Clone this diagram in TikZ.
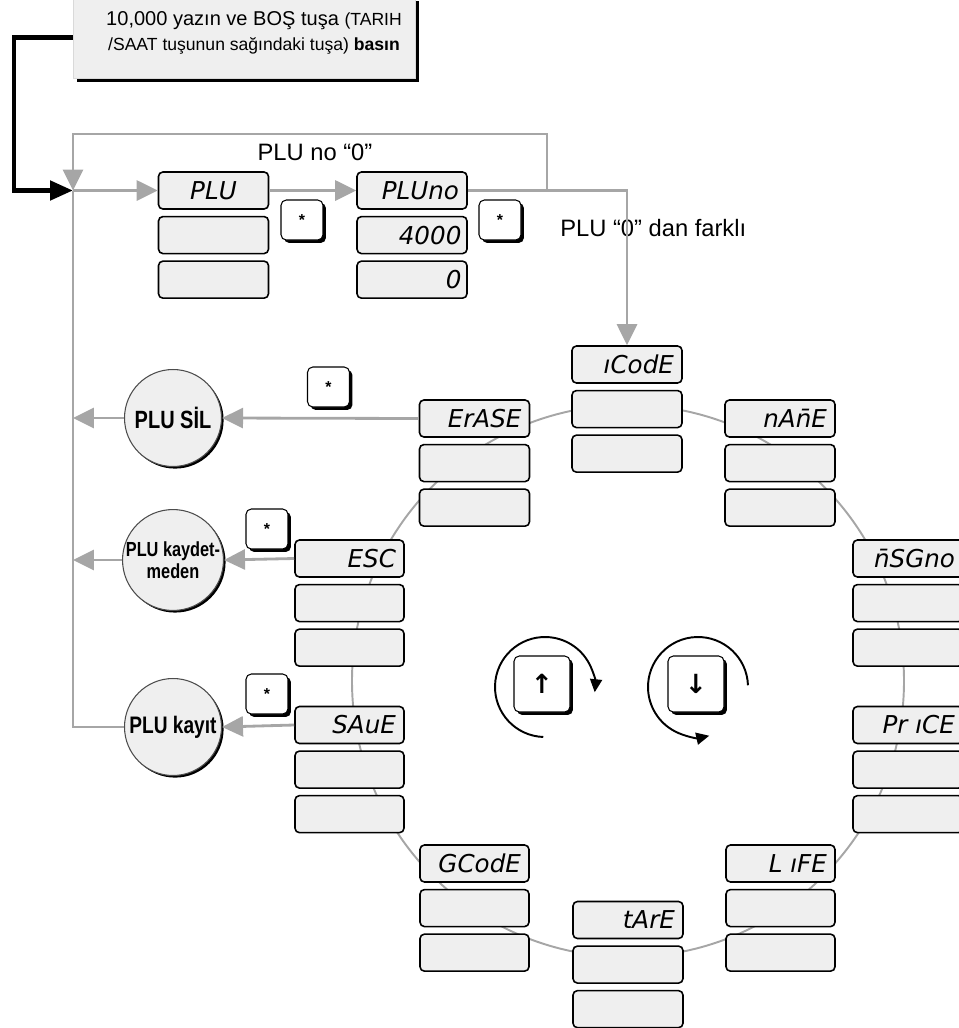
\documentclass[tikz,border=0pt]{standalone}
\usepackage{fontspec}
\setmainfont{Liberation Sans}
\newfontfamily\lcdfont{DejaVu Sans}
\newfontfamily\symfont{DejaVu Sans}
\newfontfamily\circfont{Liberation Sans}[FakeStretch=0.8]
\usepackage{xcolor}
\definecolor{lineGray}{HTML}{A6A6A6}
\definecolor{panelFill}{HTML}{EFEFEF}
\usetikzlibrary{
    arrows.meta,
    positioning,
    calc,
    shadows
}
\tikzset{
    % one row of the scale display
    lcdrow/.style={
        draw=black,
        line width=0.9pt,
        rounded corners=2.5pt,
        fill=panelFill,
        minimum height=0.74cm,
        inner sep=0pt,
    },
    % seven segment style text
    lcdtext/.style={
        font=\lcdfont\itshape\fontsize{14}{14}\selectfont,
        anchor=east,
        text height=10.2pt,
        text depth=0pt,
        inner sep=0pt,
    },
    % key of the keyboard
    keycap/.style={
        draw=black,
        line width=0.6pt,
        fill=white,
        rounded corners=3pt,
        minimum width=0.84cm,
        minimum height=0.8cm,
        font=\bfseries\small,
        drop shadow={shadow xshift=1.7pt, shadow yshift=-1.7pt, fill=black, opacity=1},
    },
    % end states on the left
    endstate/.style={
        circle,
        draw=black!70,
        line width=0.6pt,
        fill=panelFill,
        minimum size=1.94cm,
        align=center,
        inner sep=0pt,
        font=\circfont\bfseries\fontsize{14.2}{15}\selectfont,
        drop shadow={shadow xshift=1.2pt, shadow yshift=-1.2pt, fill=black, opacity=1},
    },
    % gray arrows
    flowarrow/.style={
        draw=lineGray,
        line width=1.6pt,
        -{Triangle[length=4.2mm, width=4mm]},
    },
    flowline/.style={
        draw=lineGray,
        line width=1.6pt,
    },
    % turning arrows round the up/down keys
    turn/.style={
        draw=black,
        line width=1.1pt,
        -{Triangle[length=2.6mm, width=2.4mm]},
    },
    plain text/.style={
        font=\fontsize{13.5}{16}\selectfont,
        inner sep=0pt,
    },
}
% three rows of a display: name, x, y, width, text of the first row
\newcommand{\lcdpanel}[5]{%
    \node[lcdrow, minimum width=#4] (#1-1) at (#2,#3) {};
    \node[lcdrow, minimum width=#4, below=0.12cm of #1-1] (#1-2) {};
    \node[lcdrow, minimum width=#4, below=0.12cm of #1-2] (#1-3) {};
    \node[lcdtext] (#1-t) at ([xshift=-0.17cm]#1-1.east) {#5};
}

\begin{document}
\begin{tikzpicture}[x=0.02cm, y=-0.02cm]
    \useasboundingbox (0,0) rectangle (959,1028);

    % ring of the menu
    \draw[lineGray, line width=1.1pt] (628,681) circle[radius=276];

    % note at the top
    \node[fill=panelFill, draw=black!15, minimum width=6.84cm, minimum height=1.62cm,
          drop shadow={shadow xshift=2.2pt, shadow yshift=-2.2pt, fill=black, opacity=1}]
        (note) at (244,37.5) {};
    \node[align=center, font=\fontsize{10}{14}\selectfont, inner sep=0pt]
        (notetext) at (254,33)
        {{\fontsize{11.4}{14}\selectfont 10,000 yazın ve BOŞ tuşa }(TARIH\\/SAAT tuşunun sağındaki tuşa) \textbf{basın}};

    % displays
    \lcdpanel{plu}{213.5}{190.5}{2.2cm}{}
    \node[lcdtext, anchor=center] (plu-t2) at (plu-1) {PLU};
    \lcdpanel{pluno}{412}{190.5}{2.2cm}{PLUno}
    \node[lcdtext] (pluno-v1) at ([xshift=-0.12cm]pluno-2.east) {4000};
    \node[lcdtext] (pluno-v2) at ([xshift=-0.12cm]pluno-3.east) {0};

    \lcdpanel{icode}{627}{364.5}{2.2cm}{ıCodE}
    \lcdpanel{name}{780}{418.5}{2.2cm}{nAn̄E}
    \lcdpanel{msg}{908}{558.5}{2.2cm}{n̄SGno}
    \lcdpanel{price}{908}{725}{2.2cm}{Pr ıCE}
    \lcdpanel{life}{780.5}{863.5}{2.18cm}{L ıFE}
    \lcdpanel{tare}{628}{920}{2.2cm}{tArE}
    \lcdpanel{gcode}{474.5}{863.5}{2.18cm}{GCodE}
    \lcdpanel{save}{349.5}{725}{2.18cm}{SAuE}
    \lcdpanel{esc}{349.5}{558.5}{2.18cm}{ESC}
    \lcdpanel{erase}{474.5}{418.5}{2.2cm}{ErASE}

    % keys
    \node[keycap] (star1) at (302,220) {*};
    \node[keycap] (star2) at (500,220) {*};
    \node[keycap] (star3) at (328.5,387) {*};
    \node[keycap] (star4) at (267,529) {*};
    \node[keycap] (star5) at (267,694) {*};
    \node[keycap, minimum size=1.12cm, font=\symfont\bfseries\fontsize{15}{15}\selectfont] (upkey) at (542,684) {↑};
    \node[keycap, minimum size=1.12cm, font=\symfont\bfseries\fontsize{15}{15}\selectfont] (downkey) at (696,684) {↓};
    \coordinate (upc) at (545,687);
    \coordinate (downc) at (698,687);
    \draw[turn] ($(upc)+(92:50)$) arc[start angle=92, end angle=366, radius=50];
    \draw[turn] ($(downc)+(358:50)$) arc[start angle=358, end angle=77, radius=50];

    % end states
    \node[endstate] (sil) at (173,418) {PLU SİL};
    \node[endstate, font=\circfont\bfseries\fontsize{11.6}{12.5}\selectfont] (nosave) at (173,560) {PLU kaydet-\\meden};
    \node[endstate, font=\circfont\bfseries\fontsize{13.6}{15}\selectfont] (kayit) at (173,727) {PLU kayıt};

    % texts
    \node[plain text] (zero) at (315,152) {PLU no “0”};
    \node[plain text, anchor=west] (nonzero) at (560,228) {PLU “0” dan farklı};

    % connectors
    \coordinate (entry) at (73,190.5);
    \coordinate (looptop) at (73,134);
    \coordinate (split) at (547,190.5);
    \coordinate (feed) at (14,190.5);
    \draw[black, line width=2.8pt, -{Triangle[length=4.6mm, width=3.8mm]}]
        (note.west) -- (note.west -| feed) -- (feed) -- (entry);
    \draw[flowarrow] (split) |- (looptop) -- (entry);
    \draw[flowline] (kayit.west) -| (entry);
    \draw[flowarrow] (entry) -- (plu-1.west);
    \draw[flowarrow] (plu-1.east) -- (pluno-1.west);
    \draw[flowarrow] (pluno-1.east) -| (icode-1.north);
    \draw[flowarrow] (erase-1.west) -- (sil.east);
    \draw[flowarrow] (sil.west) -- (sil.west -| entry);
    \draw[flowarrow] (esc-1.west) -- (nosave.east);
    \draw[flowarrow] (nosave.west) -- (nosave.west -| entry);
    \draw[flowarrow] (save-1.west) -- (kayit.east);
\end{tikzpicture}
\end{document}
